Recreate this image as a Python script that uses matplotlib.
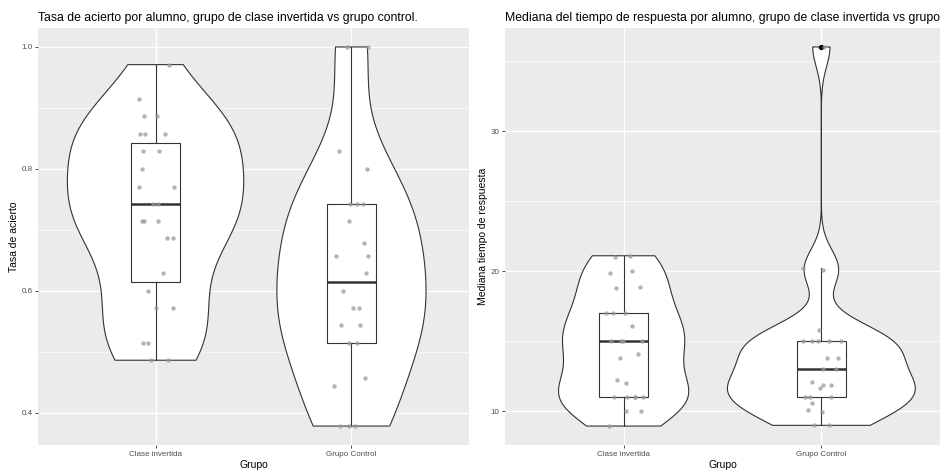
import numpy as np
import matplotlib
matplotlib.use('Agg')
import matplotlib.pyplot as plt
from matplotlib.ticker import MultipleLocator

plt.rcParams['font.family'] = ['Liberation Sans', 'DejaVu Sans']

groups = ['Clase invertida', 'Grupo Control']

# Panel 1: tasa de acierto
acierto_invertida = [0.971, 0.914, 0.886, 0.886, 0.857, 0.857, 0.857, 0.829, 0.829, 0.800,
                     0.771, 0.771, 0.743, 0.743, 0.714, 0.714, 0.714, 0.686, 0.686, 0.629,
                     0.600, 0.571, 0.571, 0.514, 0.514, 0.486, 0.486]
acierto_invertida_jit = [0.071, -0.087, -0.06, 0.005, -0.08, -0.056, 0.046, -0.065, 0.020, -0.068,
                         -0.085, 0.092, -0.014, 0.012, -0.070, -0.061, 0.014, 0.059, 0.088, 0.036,
                         -0.036, 0.002, 0.088, -0.065, -0.038, -0.022, 0.063]
acierto_control = [1.0, 1.0, 0.829, 0.800, 0.743, 0.743, 0.743, 0.714, 0.679, 0.657,
                   0.657, 0.629, 0.600, 0.571, 0.571, 0.543, 0.543, 0.514, 0.514, 0.457,
                   0.444, 0.378, 0.378, 0.378]
acierto_control_jit = [-0.022, 0.087, -0.065, 0.078, -0.007, 0.027, 0.061, -0.014, 0.063, -0.078,
                       0.087, 0.073, -0.042, 0.009, 0.041, -0.054, 0.046, -0.012, 0.029, 0.068,
                       -0.088, -0.056, -0.015, 0.020]

# Panel 2: mediana tiempo de respuesta
tiempo_invertida = [21.1, 21.0, 20.0, 19.9, 18.9, 18.8, 17.0, 17.0, 17.0, 16.1,
                    15.0, 15.0, 15.0, 15.0, 14.1, 13.8, 12.2, 12.05, 11.0, 11.0,
                    11.0, 11.0, 11.0, 10.05, 10.05, 8.95]
tiempo_invertida_jit = [0.032, -0.044, 0.042, -0.069, 0.084, -0.04, -0.089, -0.052, 0.007, 0.044,
                        -0.064, -0.014, -0.004, 0.094, 0.074, -0.02, -0.034, 0.012, -0.049, 0.015,
                        0.056, 0.057, 0.096, 0.013, 0.087, -0.072]
tiempo_control = [36.0, 20.2, 20.07, 15.8, 15.0, 15.0, 15.0, 15.0, 15.0, 13.8,
                  13.8, 13.0, 13.0, 12.1, 11.9, 11.9, 11.7, 11.0, 11.0, 11.0,
                  10.6, 10.1, 9.95, 9.0, 9.0]
tiempo_control_jit = [0.015, -0.093, 0.010, -0.012, -0.093, -0.045, -0.017, 0.037, 0.098, 0.030,
                      0.086, 0.007, 0.076, -0.047, 0.010, 0.047, -0.009, -0.081, -0.056, 0.047,
                      -0.045, -0.069, 0.003, -0.037, 0.039]

titles = ['Tasa de acierto por alumno, grupo de clase invertida vs grupo control.',
          'Mediana del tiempo de respuesta por alumno, grupo de clase invertida vs grupo']
ylabels = ['Tasa de acierto', 'Mediana tiempo de respuesta']
xlabel = 'Grupo'

BG = '#EBEBEB'
LINE = '#333333'
TXT = '#4D4D4D'


def kde_nrd0(vals, n=512):
    v = np.asarray(vals, dtype=float)
    sd = v.std(ddof=1)
    q75, q25 = np.percentile(v, [75, 25])
    lo = min(sd, (q75 - q25) / 1.34)
    bw = 0.9 * lo * len(v) ** (-0.2)
    y = np.linspace(v.min(), v.max(), n)
    d = np.exp(-0.5 * ((y[:, None] - v[None, :]) / bw) ** 2).sum(1) / (len(v) * bw * np.sqrt(2 * np.pi))
    return y, d


def panel(ax, datasets, jitters, width, major, minor, fmt):
    ax.set_facecolor(BG)
    for s in ax.spines.values():
        s.set_visible(False)
    kdes = [kde_nrd0(d) for d in datasets]
    dmax = max(k[1].max() for k in kdes)
    for i, (y, d) in enumerate(kdes):
        pos = i + 1
        half = d / dmax * width / 2
        xs = np.concatenate([pos - half, (pos + half)[::-1]])
        ys = np.concatenate([y, y[::-1]])
        ax.fill(xs, ys, facecolor='white', edgecolor=LINE, lw=0.8, zorder=2)
    ax.boxplot(datasets, positions=[1, 2], widths=0.25, whis=1.5, patch_artist=True,
               showcaps=False, manage_ticks=False,
               boxprops=dict(facecolor='white', edgecolor=LINE, lw=0.8),
               whiskerprops=dict(color=LINE, lw=0.8),
               medianprops=dict(color=LINE, lw=1.8),
               flierprops=dict(marker='o', markerfacecolor='black', markeredgecolor='black',
                               markersize=2.8),
               zorder=3)
    for i, (d, j) in enumerate(zip(datasets, jitters)):
        ax.scatter(np.array(j) + i + 1, d, s=10, color='#9A9A9A', alpha=0.75, lw=0, zorder=4)
    allv = np.concatenate([np.asarray(d) for d in datasets])
    r = allv.max() - allv.min()
    ax.set_ylim(allv.min() - 0.05 * r, allv.max() + 0.05 * r)
    ax.set_xlim(0.4, 2.6)
    ax.set_xticks([1, 2])
    ax.set_xticklabels(groups)
    ax.yaxis.set_major_locator(MultipleLocator(major))
    ax.yaxis.set_minor_locator(MultipleLocator(minor))
    ax.yaxis.set_major_formatter(fmt)
    ax.grid(which='major', color='white', lw=1.0, zorder=0)
    ax.grid(which='minor', axis='y', color='white', lw=0.5, zorder=0)
    ax.set_axisbelow(True)
    ax.tick_params(which='major', length=2.5, width=0.6, color=LINE, labelcolor=TXT,
                   labelsize=5.8, pad=1.5)
    ax.tick_params(which='minor', length=0)


fig = plt.figure(figsize=(9.44, 4.71), dpi=100)
ax1 = fig.add_axes([38 / 944, 1 - 445 / 471, (469 - 38) / 944, (445 - 28) / 471])
ax2 = fig.add_axes([505 / 944, 1 - 445 / 471, (940 - 505) / 944, (445 - 28) / 471])

panel(ax1, [acierto_invertida, acierto_control], [acierto_invertida_jit, acierto_control_jit],
      0.9, 0.2, 0.1, lambda v, p: f'{v:.1f}')
panel(ax2, [tiempo_invertida, tiempo_control], [tiempo_invertida_jit, tiempo_control_jit],
      0.95, 10, 5, lambda v, p: f'{v:.0f}')

for ax, t, yl in zip([ax1, ax2], titles, ylabels):
    ax.set_title(t, loc='left', fontsize=8.85, color='black', pad=5)
    ax.set_ylabel(yl, fontsize=7.5, color='black', labelpad=2)
    ax.set_xlabel(xlabel, fontsize=7.5, color='black', labelpad=2)

fig.savefig('out.png', dpi=100, facecolor='white')
